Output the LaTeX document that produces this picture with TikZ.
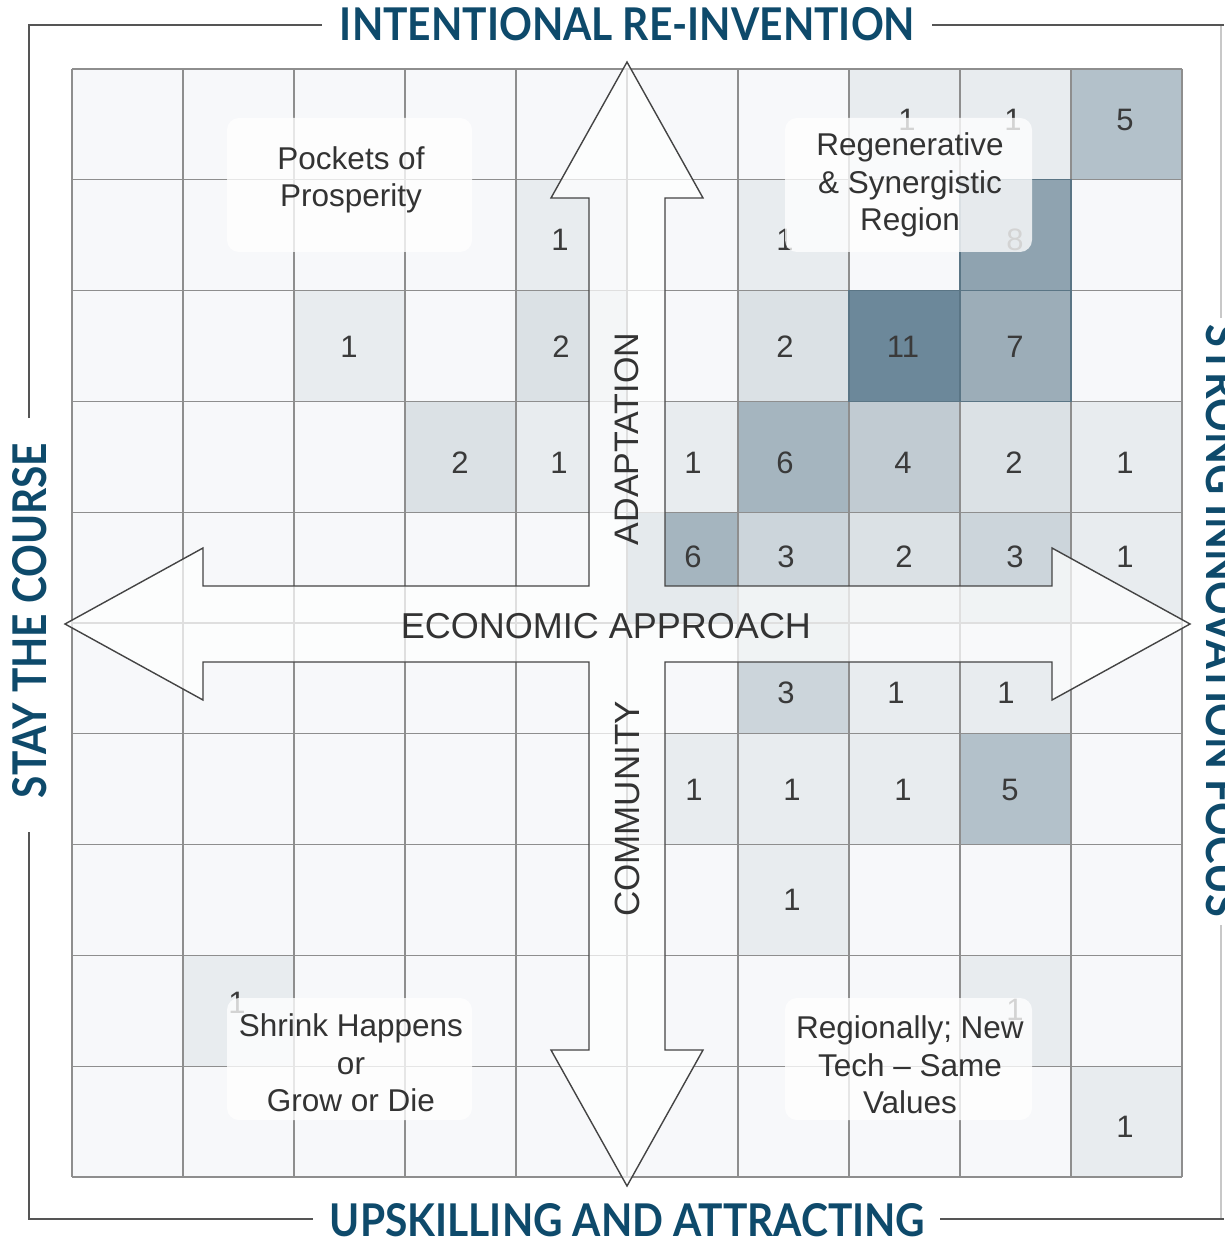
\documentclass[tikz,border=0pt]{standalone}
\usepackage{fontspec}
\usepackage{graphicx}
\setmainfont{Liberation Sans}
\newfontfamily\titlefont{Lato}
\definecolor{cellbg}{HTML}{F7F8FA}
\definecolor{gridgray}{HTML}{8E8E8E}
\definecolor{lvA}{HTML}{E8ECEF}
\definecolor{lvB}{HTML}{DBE1E5}
\definecolor{lvC}{HTML}{CCD5DB}
\definecolor{lvD}{HTML}{C1CBD2}
\definecolor{lvE}{HTML}{B3C1CA}
\definecolor{lvF}{HTML}{A5B5BF}
\definecolor{lvG}{HTML}{9CADB8}
\definecolor{lvH}{HTML}{8FA3B0}
\definecolor{lvK}{HTML}{6C889A}
\definecolor{darkedge}{HTML}{5A7585}
\definecolor{numtext}{HTML}{3A3A3A}
\definecolor{labtext}{HTML}{333333}
\definecolor{arrowline}{HTML}{444444}
\definecolor{titleblue}{HTML}{0E4A6B}
\definecolor{framegray}{HTML}{555555}
\definecolor{framelight}{HTML}{C8C8C8}
\tikzset{
  gridline/.style={draw=gridgray, line width=1.1pt},
  num/.style={font=\fontsize{31}{31}\selectfont, text=numtext, inner sep=0pt},
  labelbox/.style={fill=white, fill opacity=0.78, rounded corners=12pt, draw=none, inner sep=0pt},
  labeltext/.style={font=\fontsize{31.5}{37.5}\selectfont, text=labtext, align=center, inner sep=0pt},
  crossshape/.style={fill=white, fill opacity=0.72, draw=arrowline, line width=1.4pt, line join=miter},
  axislabel/.style={text=labtext, inner sep=0pt},
  titletext/.style={text=titleblue, inner sep=0pt, anchor=south},
  frameline/.style={draw=framegray, line width=2pt},
  framefaint/.style={draw=framelight, line width=1.2pt},
}
\begin{document}
\begin{tikzpicture}[x=1pt,y=-1pt]
\useasboundingbox (0,0) rectangle (1224,1238);
\fill[white] (0,0) rectangle (1224,1238);

% base cells
\fill[cellbg] (72,69) rectangle (1182,1177);

% shaded cells: row/col/colour
\foreach \r/\c/\col in {0/7/lvA,0/8/lvA,0/9/lvE,
  1/4/lvA,1/6/lvA,1/8/lvH,
  2/2/lvA,2/4/lvB,2/6/lvB,2/7/lvK,2/8/lvG,
  3/3/lvB,3/4/lvA,3/5/lvA,3/6/lvF,3/7/lvD,3/8/lvB,3/9/lvA,
  4/5/lvF,4/6/lvC,4/7/lvB,4/8/lvC,4/9/lvA,
  5/6/lvC,5/7/lvA,5/8/lvA,
  6/5/lvA,6/6/lvA,6/7/lvA,6/8/lvE,
  7/6/lvA,
  8/1/lvA,8/8/lvA,
  9/9/lvA}{
  \fill[\col] ({72+111*\c},{69+110.8*\r}) rectangle ++(111,110.8);
}

% grid
\foreach \i in {0,...,10}{
  \draw[gridline] ({72+111*\i},69) -- ({72+111*\i},1177);
  \draw[gridline] (72,{69+110.8*\i}) -- (1182,{69+110.8*\i});
}
% darker edges of the darkest cells
\foreach \r/\c in {2/7,2/8,1/8}{
  \draw[darkedge, line width=1.1pt] ({72+111*\c},{69+110.8*\r}) rectangle ++(111,110.8);
}

% numbers
\foreach \x/\y/\t/\n in {907/120/1/a1,1013/120/1/a2,1125/120/5/a3,
  560/240/1/b1,785/240/1/b2,1015/240/8/b3,
  349/347/1/c1,561/347/2/c2,785/347/2/c3,903/347/11/c4,1015/347/7/c5,
  460/463/2/d1,559/463/1/d2,693/463/1/d3,785/463/6/d4,903/463/4/d5,1014/463/2/d6,1125/463/1/d7,
  693/557/6/e1,786/557/3/e2,904/557/2/e3,1015/557/3/e4,1125/557/1/e5,
  786/693/3/f1,896/693/1/f2,1006/693/1/f3,
  694/790/1/g1,792/790/1/g2,903/790/1/g3,1010/790/5/g4,
  792/900/1/h1,
  237/1003/1/i1,1015/1010/1/i2,
  1125/1127/1/j1}{
  \node[num] (num-\n) at (\x,\y) {\t};
}

% quadrant label boxes
\node[labelbox, minimum width=245pt, minimum height=134pt] (boxPockets) at (349.5,185) {};
\node[labelbox, minimum width=247pt, minimum height=134pt] (boxRegen) at (908.5,185) {};
\node[labelbox, minimum width=245pt, minimum height=122pt] (boxShrink) at (349.5,1059) {};
\node[labelbox, minimum width=247pt, minimum height=122pt] (boxRegional) at (908.5,1059) {};

\node[labeltext] (lblPockets) at (351,180) {Pockets of\\Prosperity};
\node[labeltext] (lblRegen) at (910,185) {Regenerative\\\& Synergistic\\Region};
\node[labeltext] (lblShrink) at (351,1063) {Shrink Happens\\or\\Grow or Die};
\node[labeltext] (lblRegional) at (910,1065) {Regionally; New\\Tech -- Same\\Values};

% four-way arrow
\draw[crossshape] (627,62) -- (703,198) -- (665,198) -- (665,586) -- (1052,586) -- (1052,548)
  -- (1190,624) -- (1052,700) -- (1052,662) -- (665,662) -- (665,1050) -- (703,1050)
  -- (627,1186) -- (551,1050) -- (589,1050) -- (589,662) -- (203,662) -- (203,700)
  -- (65,624) -- (203,548) -- (203,586) -- (589,586) -- (589,198) -- (551,198) -- cycle;

\node[axislabel, font=\fontsize{36}{36}\selectfont] (econ) at (606,626) {ECONOMIC APPROACH};
\node[axislabel, font=\fontsize{34}{34}\selectfont, rotate=90] (adapt) at (627,439) {ADAPTATION};
\node[axislabel, font=\fontsize{35}{35}\selectfont, rotate=90] (commu) at (627,809) {COMMUNITY};

% outer titles
\node[titletext] (tTop) at (627.5,41) {\resizebox{575pt}{33pt}{\titlefont\bfseries INTENTIONAL RE-INVENTION}};
\node[titletext] (tBottom) at (627.5,1237) {\resizebox{595pt}{33pt}{\titlefont\bfseries UPSKILLING AND ATTRACTING}};
\node[titletext, rotate=90] (tLeft) at (47,620.5) {\resizebox{355pt}{34pt}{\titlefont\bfseries STAY THE COURSE}};
\node[titletext, rotate=-90] (tRight) at (1206,621) {\resizebox{592pt}{34pt}{\titlefont\bfseries STRONG INNOVATION FOCUS}};

% frame
\draw[frameline] (29,418) -- (29,25) -- (322,25);
\draw[frameline] (932,25) -- (1224,25);
\draw[frameline] (29,832) -- (29,1219) -- (313,1219);
\draw[frameline] (940,1219) -- (1224,1219);
\draw[framefaint] (1221,26) -- (1221,318);
\draw[framefaint] (1221,925) -- (1221,1218);
\end{tikzpicture}
\end{document}
